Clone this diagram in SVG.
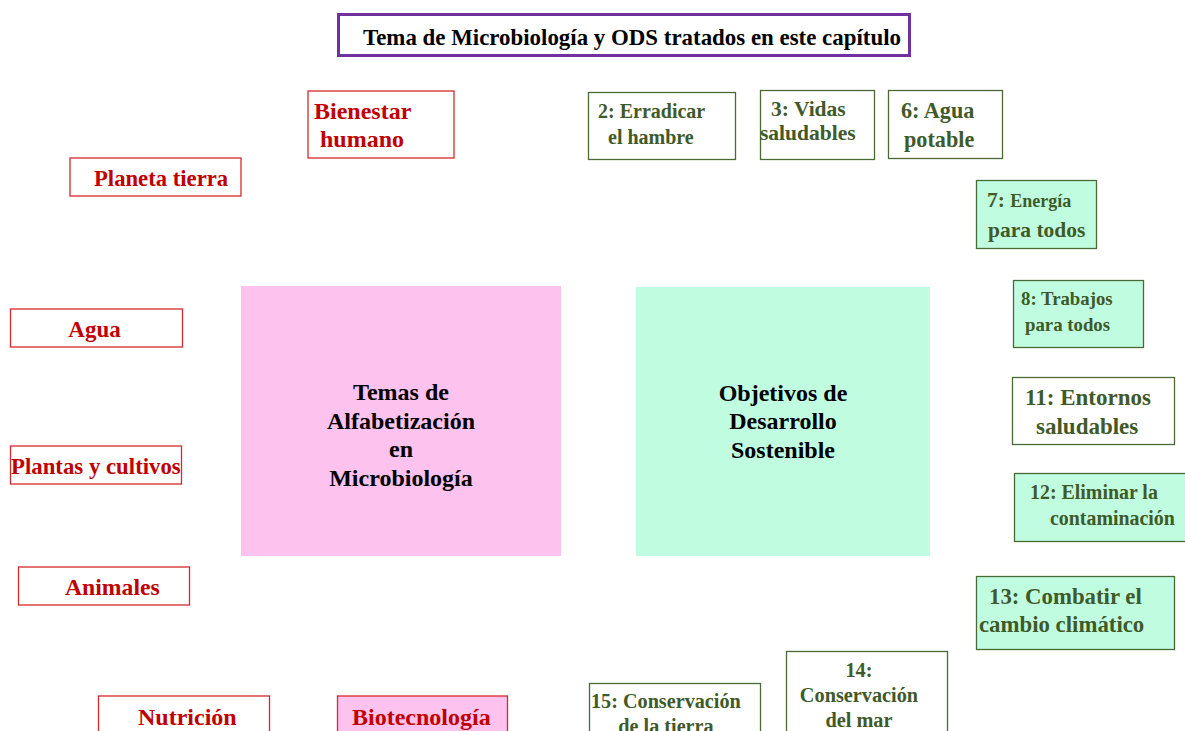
<svg xmlns="http://www.w3.org/2000/svg" width="1185" height="731" viewBox="0 0 1185 731">
<style>
text{font-family:"Liberation Serif","Times New Roman",serif;font-weight:bold}
.r rect{fill:#fff;stroke:#d42a2a;stroke-width:1.3}
.r text{fill:#c00000}
.g rect{fill:#fff;stroke:#4a6a35;stroke-width:1.3}
.g.f rect{fill:#c0fde0}
.g text{fill:#3f5a28}
.big text{fill:#000;text-anchor:middle}
</style>
<g id="title"><rect x="338.5" y="14.5" width="571" height="41" fill="#fff" stroke="#7030a0" stroke-width="3"/><text x="632" y="45" font-size="22.9" text-anchor="middle" fill="#000">Tema de Microbiología y ODS tratados en este capítulo</text></g>
<g id="n-bienestar" class="r" font-size="24"><rect x="308" y="91" width="146" height="67"/><text x="314" y="119">Bienestar</text><text x="320" y="147">humano</text></g>
<g id="n-planeta" class="r" font-size="22.7"><rect x="70" y="158" width="171" height="38"/><text x="94" y="186">Planeta tierra</text></g>
<g id="n-agua" class="r" font-size="23"><rect x="10.5" y="309" width="172" height="38"/><text x="94.5" y="337" text-anchor="middle">Agua</text></g>
<g id="n-plantas" class="r" font-size="22.8"><rect x="10.5" y="446" width="171" height="38"/><text x="11" y="474">Plantas y cultivos</text></g>
<g id="n-animales" class="r" font-size="23.7"><rect x="18.5" y="567" width="171" height="38"/><text x="65" y="595">Animales</text></g>
<g id="n-nutricion" class="r" font-size="24"><rect x="98.5" y="696" width="171" height="45"/><text x="138" y="725">Nutrición</text></g>
<g id="n-biotec" class="r" font-size="24"><rect x="337.5" y="696" width="170" height="45" style="fill:#fdc2ee"/><text x="352" y="725">Biotecnología</text></g>
<g id="n-temas" class="big" font-size="24"><rect x="241" y="286" width="320" height="270" fill="#fdc2ee"/><text x="401" y="400">Temas de</text><text x="401" y="429">Alfabetización</text><text x="401" y="457">en</text><text x="401" y="486">Microbiología</text></g>
<g id="n-ods" class="big" font-size="24"><rect x="636" y="287" width="294" height="269" fill="#c0fde0"/><text x="783" y="401">Objetivos de</text><text x="783" y="429">Desarrollo</text><text x="783" y="458">Sostenible</text></g>
<g id="n-2" class="g" font-size="20"><rect x="588.5" y="92.5" width="147" height="67"/><text x="598" y="118">2: Erradicar</text><text x="608" y="144">el hambre</text></g>
<g id="n-3" class="g" font-size="21.5"><rect x="760.5" y="90.5" width="114" height="69"/><text x="771" y="116">3: Vidas</text><text x="760" y="140">saludables</text></g>
<g id="n-6" class="g" font-size="22.2"><rect x="888.5" y="90.5" width="114" height="68"/><text x="901" y="118">6: Agua</text><text x="904" y="147">potable</text></g>
<g id="n-7" class="g f" font-size="21.5"><rect x="976.5" y="180.5" width="120" height="68"/><text x="987" y="207">7: <tspan font-size="18">Energía</tspan></text><text x="988" y="237">para todos</text></g>
<g id="n-8" class="g f" font-size="18.8"><rect x="1013.5" y="280.5" width="130" height="67"/><text x="1021" y="305">8: Trabajos</text><text x="1025" y="331">para todos</text></g>
<g id="n-11" class="g" font-size="23"><rect x="1012.5" y="377.5" width="162" height="67"/><text x="1025" y="405">11: Entornos</text><text x="1036" y="434">saludables</text></g>
<g id="n-12" class="g f" font-size="19.9"><rect x="1014.5" y="473.5" width="176" height="68"/><text x="1030" y="499">12: Eliminar la</text><text x="1050" y="525">contaminación</text></g>
<g id="n-13" class="g f" font-size="22.8"><rect x="976.5" y="576.5" width="198" height="73"/><text x="989" y="604">13: Combatir el</text><text x="979" y="632">cambio climático</text></g>
<g id="n-14" class="g" font-size="20.3"><rect x="786.5" y="651.5" width="161" height="90"/><text x="859" y="677" text-anchor="middle">14:</text><text x="859" y="702" text-anchor="middle">Conservación</text><text x="859" y="727" text-anchor="middle">del mar</text></g>
<g id="n-15" class="g" font-size="20.2"><rect x="589.5" y="683.5" width="171" height="60"/><text x="591" y="708">15: Conservación</text><text x="666" y="733" text-anchor="middle">de la tierra</text></g>
<g id="connectors"></g>
</svg>
